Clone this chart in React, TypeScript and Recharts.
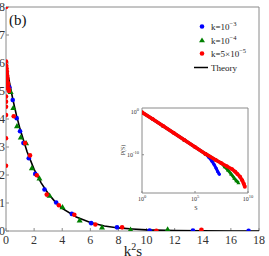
import React from 'react';
import { ScatterChart, Scatter, XAxis, YAxis } from 'recharts';

// main panel: scaled distribution vs k^2 s
const xTicks = [0, 2, 4, 6, 8, 10, 12, 14, 16, 18];
const yTicks = [0, 1, 2, 3, 4, 5, 6, 7, 8];

const blueX = [0.24, 0.48, 0.76, 1.0, 1.24, 1.62, 2.08, 2.74, 3.57, 4.68, 6.06, 7.9, 10.22, 13.3, 17.26];
const blueY = [5.13, 4.68, 4.03, 3.56, 3.14, 2.6, 2.04, 1.48, 1.02, 0.61, 0.28, 0.13, 0.02, 0.02, 0.01];

const greenX = [0.33, 0.52, 0.78, 1.05, 1.43, 1.84, 2.38, 3.1, 4.02, 5.24, 6.83, 8.86, 11.5];
const greenY = [4.97, 4.4, 3.75, 3.35, 3.14, 2.25, 1.88, 1.27, 0.86, 0.38, 0.13, 0.05, 0.06];

const redX = [0, 0, 0, 0, 0, 0, 0, 0, 0, 0.02, 0.03, 0.04, 0.05, 0.06, 0.08, 0.09, 0.1, 0.12, 0.15, 0.18, 0.21, 0.55, 1.36, 1.71, 2.19, 2.9, 3.76, 4.86, 6.36, 8.26, 10.7, 13.9];
const redY = [8, 6.05, 5.1, 4.8, 4.62, 4.44, 4.14, 3.31, 2.33, 5.9, 5.6, 5.8, 5.4, 5.7, 5.55, 5.2, 5.45, 5.3, 5.25, 5.1, 5.0, 4.1, 3.14, 2.7, 1.99, 1.3, 0.92, 0.58, 0.23, 0.13, 0.01, 0.04];

const theoryX = [0, 0.25, 0.5, 0.75, 1, 1.5, 2, 2.5, 3, 3.5, 4, 5, 6, 7, 8, 9, 10, 12, 14, 16, 18];
const theoryY = [6.0, 5.3, 4.67, 4.12, 3.64, 2.83, 2.2, 1.72, 1.34, 1.04, 0.81, 0.5, 0.3, 0.18, 0.11, 0.07, 0.04, 0.015, 0.005, 0.002, 0.001];

// inset: P(S) vs S, log-log (values as decades)
const insetTicksS = [1, 1e5, 1e10];
const insetTicksP = [1, 1e-10];

const insetRedLogS = [0, 1, 2, 3, 4, 5, 6, 7, 7.5, 8, 8.5, 8.8, 9.0, 9.25, 9.45, 9.6, 9.7];
const insetRedLogP = [0, -1.6, -3.25, -4.9, -6.55, -8.2, -9.8, -11.3, -12.0, -12.7, -13.4, -14.0, -14.5, -15.2, -16.0, -16.8, -17.5];
const insetBlueLogS = [0, 2, 4, 5, 6, 6.3, 6.6, 6.8, 7.0, 7.15, 7.3];
const insetBlueLogP = [0, -3.25, -6.55, -8.2, -9.8, -10.6, -11.5, -12.3, -13.2, -14.0, -14.6];
const insetGreenLogS = [0, 2, 4, 6, 7, 7.5, 7.8, 8.1, 8.4, 8.7, 8.9, 9.1];
const insetGreenLogP = [0, -3.25, -6.55, -9.8, -11.3, -12.0, -12.8, -13.6, -14.5, -15.5, -16.1, -16.6];

const BLUE = '#0000ff';
const GREEN = '#008000';
const RED = '#ff0000';
const FRAME = '#8a8a8a';
const FONT = '"Liberation Serif", "Times New Roman", serif';

const pts = (xs: number[], ys: number[]) => xs.map((x, i) => ({ x, y: ys[i] }));
const logPts = (ls: number[], lp: number[]) => ls.map((s, i) => ({ x: 10 ** s, y: 10 ** lp[i] }));

const dot = (color: string, r: number) => (p: any) => <circle cx={p.cx} cy={p.cy} r={r} fill={color} />;
const tri = (color: string, s: number) => (p: any) => (
  <polygon
    points={`${p.cx},${p.cy - s} ${p.cx - s},${p.cy + s * 0.75} ${p.cx + s},${p.cy + s * 0.75}`}
    fill={color}
  />
);
const none = () => <g />;

const tickStyle = { fontSize: 12, fill: '#333', fontFamily: FONT };
const expOf = (v: number) => String(Math.round(Math.log10(v)));

const PowTickX = (p: any) => (
  <text x={p.x} y={p.y + 8} textAnchor="middle" fontSize={6} fill="#333" fontFamily={FONT}>
    10<tspan dy={-3} fontSize={4.5}>{expOf(p.payload.value)}</tspan>
  </text>
);

const PowTickY = (p: any) => (
  <text x={p.x} y={p.y + 2} textAnchor="end" fontSize={6} fill="#333" fontFamily={FONT}>
    10<tspan dy={-3} fontSize={4.5}>{expOf(p.payload.value)}</tspan>
  </text>
);

const Inset = () => {
  const red = logPts(insetRedLogS, insetRedLogP);
  return (
    <ScatterChart width={135} height={115} margin={{ top: 7, right: 6, left: 0, bottom: 0 }}>
      <XAxis
        type="number"
        dataKey="x"
        scale="log"
        domain={[1, 1e10]}
        ticks={insetTicksS}
        allowDataOverflow
        interval={0}
        height={22}
        stroke={FRAME}
        tickSize={-2}
        tickMargin={2}
        tickFormatter={expOf}
        tick={PowTickX}
      />
      <XAxis xAxisId="top" orientation="top" type="number" dataKey="x" scale="log" domain={[1, 1e10]} ticks={insetTicksS} allowDataOverflow interval={0} height={1} stroke={FRAME} tickSize={-2} tick={false} />
      <YAxis
        type="number"
        dataKey="y"
        scale="log"
        domain={[1e-19, 10]}
        ticks={insetTicksP}
        allowDataOverflow
        interval={0}
        width={22}
        stroke={FRAME}
        tickSize={-2}
        tickMargin={5}
        tickFormatter={expOf}
        tick={PowTickY}
      />
      <YAxis yAxisId="right" orientation="right" type="number" dataKey="y" scale="log" domain={[1e-19, 10]} ticks={insetTicksP} allowDataOverflow interval={0} width={1} stroke={FRAME} tickSize={-2} tick={false} />
      <Scatter xAxisId="top" yAxisId="right" data={red} shape={none} isAnimationActive={false} />
      <Scatter data={logPts(insetBlueLogS, insetBlueLogP)} fill={BLUE} line={{ stroke: BLUE, strokeWidth: 3 }} shape={dot(BLUE, 1.6)} isAnimationActive={false} />
      <Scatter data={logPts(insetGreenLogS, insetGreenLogP)} fill={GREEN} line={{ stroke: GREEN, strokeWidth: 3 }} shape={tri(GREEN, 2)} isAnimationActive={false} />
      <Scatter data={red} fill={RED} line={{ stroke: RED, strokeWidth: 3.6 }} shape={dot(RED, 2)} isAnimationActive={false} />
    </ScatterChart>
  );
};

const Overlay = () => (
  <svg width={269} height={256} style={{ position: 'absolute', left: 0, top: 0, pointerEvents: 'none' }} fontFamily={FONT}>
    <text x={9} y={25} fontSize={15} fill="#111">(b)</text>
    {/* legend */}
    <circle cx={202} cy={26.5} r={2.3} fill={BLUE} />
    <text x={211} y={29.5} fontSize={9} fill="#222">k=10<tspan dy={-3.5} fontSize={6.5}>−3</tspan></text>
    <polygon points="202,37.5 199,42.3 205,42.3" fill={GREEN} />
    <text x={211} y={43.5} fontSize={9} fill="#222">k=10<tspan dy={-3.5} fontSize={6.5}>−4</tspan></text>
    <circle cx={202} cy={53.5} r={2.3} fill={RED} />
    <text x={211} y={56.5} fontSize={9} fill="#222">k=5×10<tspan dy={-3.5} fontSize={6.5}>−5</tspan></text>
    <line x1={194} x2={208} y1={67.5} y2={67.5} stroke="#000" strokeWidth={1.5} />
    <text x={211} y={70.5} fontSize={9} fill="#222">Theory</text>
    {/* axis labels */}
    <text x={133} y={256} fontSize={15} textAnchor="middle" fill="#222">
      k<tspan dy={-6} fontSize={10}>2</tspan><tspan dy={6}>s</tspan>
    </text>
    <text x={196} y={210} fontSize={6} textAnchor="middle" fill="#333">S</text>
    <text x={125} y={150} fontSize={6} textAnchor="middle" fill="#333" transform="rotate(-90 125 150)">P(S)</text>
  </svg>
);

export default function App() {
  const theory = pts(theoryX, theoryY);
  return (
    <div style={{ position: 'relative', width: 269, height: 256, background: '#fff', overflow: 'hidden' }}>
      <style>{'body{margin:0}'}</style>
      <ScatterChart width={269} height={256} margin={{ top: 6, right: 9, left: 0, bottom: 0 }}>
        <XAxis
          type="number"
          dataKey="x"
          domain={[0, 18]}
          ticks={xTicks}
          allowDataOverflow
          height={25}
          stroke={FRAME}
          tickSize={-3}
          tickMargin={7}
          tick={tickStyle}
          interval={0}
        />
        <XAxis xAxisId="top" orientation="top" type="number" dataKey="x" domain={[0, 18]} ticks={xTicks} allowDataOverflow height={1} stroke={FRAME} tickSize={-3} tick={false} interval={0} />
        <YAxis
          type="number"
          dataKey="y"
          domain={[0, 8]}
          ticks={yTicks}
          allowDataOverflow
          width={6}
          stroke={FRAME}
          tickSize={-3}
          tickMargin={4}
          tick={tickStyle}
          interval={0}
        />
        <YAxis yAxisId="right" orientation="right" type="number" dataKey="y" domain={[0, 8]} ticks={yTicks} allowDataOverflow width={1} stroke={FRAME} tickSize={-3} tick={false} interval={0} />
        <Scatter xAxisId="top" yAxisId="right" data={theory} shape={none} isAnimationActive={false} />
        <Scatter data={theory} line={{ stroke: '#000', strokeWidth: 1.6 }} shape={none} isAnimationActive={false} />
        <Scatter data={pts(blueX, blueY)} fill={BLUE} shape={dot(BLUE, 2.3)} isAnimationActive={false} />
        <Scatter data={pts(greenX, greenY)} fill={GREEN} shape={tri(GREEN, 3)} isAnimationActive={false} />
        <Scatter data={pts(redX, redY)} fill={RED} shape={dot(RED, 2.3)} isAnimationActive={false} />
      </ScatterChart>
      <div style={{ position: 'absolute', left: 120, top: 100 }}>
        <Inset />
      </div>
      <Overlay />
    </div>
  );
}
